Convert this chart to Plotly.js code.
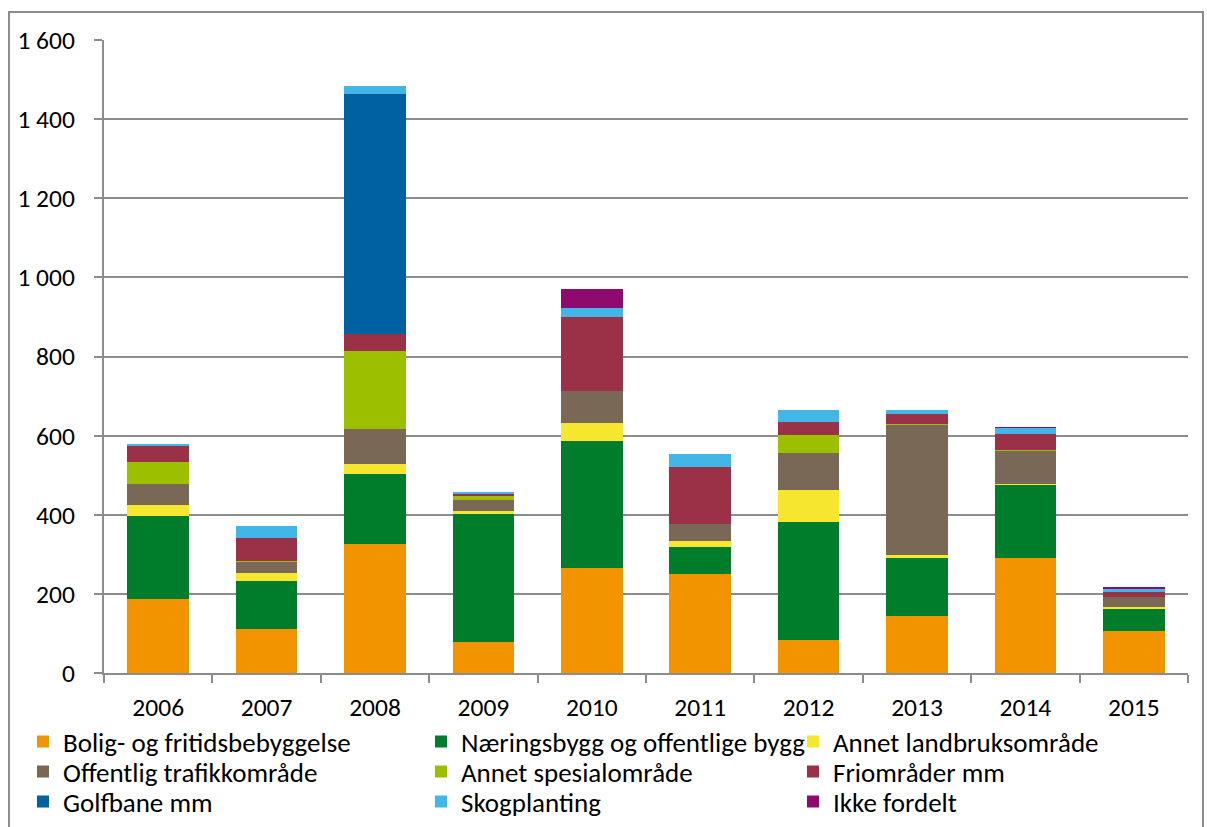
<!DOCTYPE html>
<html><head><meta charset="utf-8">
<script src="https://cdn.plot.ly/plotly-3.0.1.min.js"></script>
<style>
html,body{margin:0;padding:0;background:#fff;}
#frame{position:absolute;left:8px;top:11px;width:1196px;height:830px;border:2px solid #8c8c8c;box-sizing:border-box;pointer-events:none;}
#chart{position:absolute;left:0;top:0;width:1207px;height:827px;}
</style></head>
<body>
<div id="chart"></div>
<div id="frame"></div>
<script>
const years = ["2006","2007","2008","2009","2010","2011","2012","2013","2014","2015"];
const seriesNames = ["Bolig- og fritidsbebyggelse","Næringsbygg og offentlige bygg","Annet landbruksområde","Offentlig trafikkområde","Annet spesialområde","Friområder mm","Golfbane mm","Skogplanting","Ikke fordelt"];
const bolig      = [186,112,325, 78,266,250, 83,143,291,106];
const naering    = [210,120,178,325,321, 68,298,148,184, 55];
const landbruk   = [ 29, 21, 26,  6, 45, 16, 82,  7,  4,  5];
const trafikk    = [ 54, 28, 88, 28, 82, 43, 92,328, 82, 26];
const spesial    = [ 54,  3,196, 10,  0,  0, 46,  3,  3,  0];
const friomrader = [ 40, 58, 44,  5,186,143, 33, 26, 41, 14];
const golfbane   = [  0,  0,606,  0,  0,  0,  0,  0,  0,  0];
const skog       = [  7, 30, 20,  5, 22, 34, 32, 10, 15,  6];
const ikkeFordelt= [  0,  0,  0,  0, 48,  0,  0,  0,  3,  5];
const yTickVals  = [0,200,400,600,800,1000,1200,1400,1600];
const yTickText  = ["0","200","400","600","800","1 000","1 200","1 400","1 600"];

const seriesValues = [bolig,naering,landbruk,trafikk,spesial,friomrader,golfbane,skog,ikkeFordelt];
const colors = ["#F29400","#007D2A","#F7E62E","#796855","#9CC000","#9B3147","#0061A2","#43B6E8","#8E0A6E"];

const font = "Carlito, Calibri, 'Liberation Sans Narrow', sans-serif";
// legend layout: 3 columns x 3 rows (row-major order), each entry its own legend box
const legendColLeft = [23, 421, 793];
const legendRowY = [742, 772, 802];

const layout = {
  width:1207, height:827,
  barmode:"stack", bargap:0.43,
  margin:{l:104, r:19, t:40, b:154, autoexpand:false},
  paper_bgcolor:"#fff", plot_bgcolor:"#fff",
  font:{family:font, size:25.5, color:"#000"},
  showlegend:true,
  xaxis:{type:"category", showgrid:false, showline:true, linecolor:"#8c8c8c", linewidth:2,
    ticks:"outside", tickson:"boundaries", ticklen:8, tickwidth:2, tickcolor:"#8c8c8c",
    tickfont:{size:25.5, color:"#000"}, ticklabelstandoff:10, zeroline:false, fixedrange:true,
    automargin:false},
  yaxis:{range:[0,1600], tickvals:yTickVals, ticktext:yTickText, showgrid:true,
    gridcolor:"#8c8c8c", gridwidth:2, showline:true, linecolor:"#8c8c8c", linewidth:2,
    ticks:"outside", ticklen:8, tickwidth:2, tickcolor:"#8c8c8c", zeroline:false,
    tickfont:{size:25.5, color:"#000"}, ticklabelstandoff:14, fixedrange:true,
    automargin:false}
};

const traces = seriesNames.map((n,i)=>{
  const key = i===0 ? "legend" : "legend"+(i+1);
  const col = i%3, row = Math.floor(i/3);
  layout[key] = {xref:"container", yref:"container",
    x: legendColLeft[col]/1207, xanchor:"left",
    y: 1 - legendRowY[row]/827, yanchor:"middle",
    bgcolor:"rgba(0,0,0,0)", borderwidth:0,
    font:{size:27, family:font, color:"#000"}};
  return {type:"bar", name:n, x:years, y:seriesValues[i], legend:key,
    marker:{color:colors[i], line:{width:0}}};
});

Plotly.newPlot("chart", traces, layout, {displayModeBar:false, staticPlot:true});
</script>
</body></html>
